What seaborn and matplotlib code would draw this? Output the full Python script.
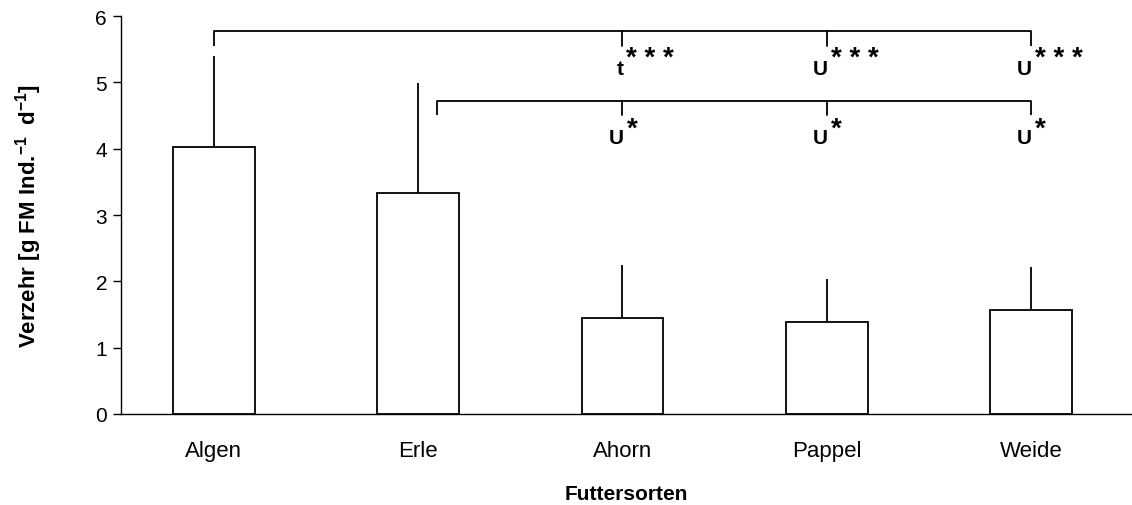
import numpy as np
import matplotlib
matplotlib.use("Agg")
import matplotlib.pyplot as plt
import seaborn as sns

# Feeding rate per food type (mean and upper standard deviation)
foods = ["Algen", "Erle", "Ahorn", "Pappel", "Weide"]
means = [4.02, 3.33, 1.45, 1.38, 1.57]
sd = [1.38, 1.66, 0.80, 0.65, 0.65]
y_ticks = [0, 1, 2, 3, 4, 5, 6]

# Significance comparisons: reference group -> compared groups, (test, stars)
comp_algen_targets = ["Ahorn", "Pappel", "Weide"]
comp_algen_labels = [("t", "* * *"), ("U", "* * *"), ("U", "* * *")]
comp_erle_targets = ["Ahorn", "Pappel", "Weide"]
comp_erle_labels = [("U", "*"), ("U", "*"), ("U", "*")]

sns.set_theme(style="ticks")
plt.rcParams["font.family"] = ["Liberation Sans", "DejaVu Sans"]
plt.rcParams["mathtext.fontset"] = "custom"
plt.rcParams["mathtext.rm"] = "Liberation Sans"
plt.rcParams["mathtext.bf"] = "Liberation Sans:bold"
for key in ("text.color", "axes.labelcolor", "xtick.color", "ytick.color",
            "axes.edgecolor"):
    plt.rcParams[key] = "black"

fig = plt.figure(figsize=(11.32, 5.06), dpi=100)
ax = fig.add_axes([121 / 1132, 91 / 506, 1011 / 1132, 398 / 506])

sns.barplot(x=foods, y=means, width=0.4, color="white", saturation=1,
            edgecolor="black", linewidth=1.3, ax=ax, zorder=2)
ax.errorbar(np.arange(len(foods)), means, yerr=[np.zeros(len(sd)), sd],
            fmt="none", ecolor="black", elinewidth=1.3, capsize=0, zorder=3)

ax.set_xlim(-0.455, 4.495)
ax.set_ylim(0, 6)
ax.set_yticks(y_ticks)
ax.set_yticklabels([str(v) for v in y_ticks], fontsize=15)
ax.tick_params(axis="y", direction="out", length=6, width=1, pad=4)
ax.tick_params(axis="x", length=0, pad=19, labelsize=16)

for side in ("top", "right"):
    ax.spines[side].set_visible(False)
for side in ("left", "bottom"):
    ax.spines[side].set_linewidth(1.0)

ax.set_xlabel("Futtersorten", fontsize=15, fontweight="bold", labelpad=16)
ax.set_ylabel(r"Verzehr [g FM Ind.$^{\mathbf{-1}}$  d$^{\mathbf{-1}}$]",
              fontsize=16, fontweight="bold")
ax.yaxis.set_label_coords(-0.076, 0.5)


def bracket(start, targets, labels, y_bar, y_leg, y_text, y_star):
    pos = {f: i for i, f in enumerate(foods)}
    xs = [pos[t] for t in targets]
    ax.plot([start, start, xs[-1], xs[-1]], [y_leg, y_bar, y_bar, y_leg],
            color="black", lw=1.3, solid_capstyle="butt", zorder=4)
    for x in xs[:-1]:
        ax.plot([x, x], [y_bar, y_leg], color="black", lw=1.3, zorder=4)
    for x, (test, stars) in zip(xs, labels):
        ax.text(x + 0.005, y_text, test, ha="right", va="baseline",
                fontsize=15, fontweight="bold")
        ax.text(x + 0.02, y_star, stars, ha="left", va="baseline",
                fontsize=20, fontweight="bold")


bracket(0, comp_algen_targets, comp_algen_labels, 5.77, 5.55, 5.13, 5.26)
bracket(1.09, comp_erle_targets, comp_erle_labels, 4.72, 4.51, 4.09, 4.19)

fig.savefig("out.png", dpi=100, facecolor="white")
